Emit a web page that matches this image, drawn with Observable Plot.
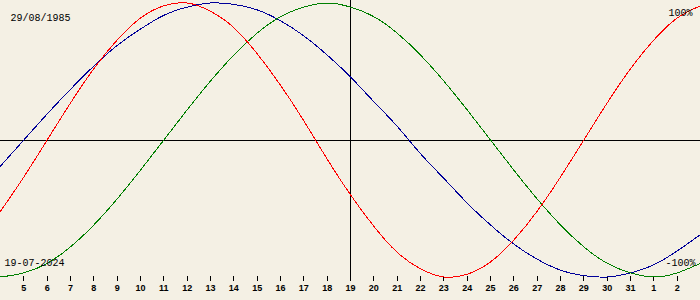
<!DOCTYPE html>
<html>
<head>
<meta charset="utf-8">
<script src="https://cdn.jsdelivr.net/npm/d3@7"></script>
<script src="https://cdn.jsdelivr.net/npm/@observablehq/plot@0.6"></script>
<style>
  html, body { margin: 0; padding: 0; background: #f4f0e4; }
  #chart svg { display: block; }
</style>
</head>
<body>
<div id="chart"></div>
<script>
// Days of the window (July 2024; 32 = Aug 1, 33 = Aug 2, 34 = Aug 3)
const days = [4,5,6,7,8,9,10,11,12,13,14,15,16,17,18,19,20,21,22,23,24,25,26,27,28,29,30,31,32,33,34];
// Biorhythm values in percent
const physical =     [-52,-27,0,27,52,73,89,98,100,94,82,63,40,14,-14,-40,-63,-82,-94,-100,-98,-89,-73,-52,-27,0,27,52,73,89,98];
const emotional =    [-100,-97,-90,-78,-62,-43,-22,0,22,43,62,78,90,97,100,97,90,78,62,43,22,0,-22,-43,-62,-78,-90,-97,-100,-97,-90];
const intellectual = [-19,0,19,37,54,69,81,91,97,100,99,95,87,76,62,46,28,10,-10,-28,-46,-62,-76,-87,-95,-99,-100,-97,-91,-81,-69];
// Axis ticks
const tickDays =   [5,6,7,8,9,10,11,12,13,14,15,16,17,18,19,20,21,22,23,24,25,26,27,28,29,30,31,32,33];
const tickLabels = ["5","6","7","8","9","10","11","12","13","14","15","16","17","18","19","20","21","22","23","24","25","26","27","28","29","30","31","1","2"];
const today = 19;
const birthLabel = "29/08/1985";
const todayLabel = "19-07-2024";

const toRows = vals => days.map((d, i) => ({day: d, v: vals[i]}));
const labelOf = new Map(tickDays.map((d, i) => [d, tickLabels[i]]));

const chart = Plot.plot({
  width: 700,
  height: 300,
  marginLeft: 0,
  marginRight: 0,
  marginTop: 2.5,
  marginBottom: 24,
  style: {background: "#f4f0e4", fontFamily: "Liberation Sans", overflow: "visible"},
  x: {domain: [4, 34], range: [0, 700], label: null},
  y: {domain: [-100, 100], range: [276.5, 2.5], axis: null},
  marks: [
    Plot.axisX({
      ticks: tickDays.filter(d => d !== today),
      tickSize: 5,
      tickPadding: 3,
      tickFormat: d => labelOf.get(d),
      label: null,
      fontSize: 9,
      fontWeight: "bold",
      stroke: "#000",
      fill: "#000",
      strokeWidth: 1
    }),
    Plot.text([labelOf.get(today)], {x: [today], y: [-100], dy: 11.5, lineAnchor: "middle", fontSize: 9, fontWeight: "bold", fill: "#000"}),
    Plot.ruleY([0], {stroke: "#000", strokeWidth: 1}),
    Plot.ruleX([today], {y1: 102, y2: -103, stroke: "#000", strokeWidth: 1, clip: false}),
    Plot.line(toRows(intellectual), {x: "day", y: "v", stroke: "#000099", strokeWidth: 1, curve: "natural"}),
    Plot.line(toRows(emotional), {x: "day", y: "v", stroke: "#008000", strokeWidth: 1, curve: "natural"}),
    Plot.line(toRows(physical), {x: "day", y: "v", stroke: "#ff0000", strokeWidth: 1, curve: "natural"}),
    Plot.text([birthLabel], {frameAnchor: "top-left", dx: 10, dy: 14.5, lineAnchor: "middle", textAnchor: "start", fontFamily: "Liberation Mono", fontSize: 10, fill: "#000"}),
    Plot.text([todayLabel], {frameAnchor: "bottom-left", dx: 4, dy: -14, lineAnchor: "middle", textAnchor: "start", fontFamily: "Liberation Mono", fontSize: 10, fill: "#000"}),
    Plot.text(["100%"], {frameAnchor: "top-right", dx: -8, dy: 9.5, lineAnchor: "middle", textAnchor: "end", fontFamily: "Liberation Mono", fontSize: 10, fill: "#000"}),
    Plot.text(["-100%"], {frameAnchor: "bottom-right", dx: -5, dy: -14, lineAnchor: "middle", textAnchor: "end", fontFamily: "Liberation Mono", fontSize: 10, fill: "#000"})
  ]
});
chart.querySelectorAll("path, line").forEach(el => el.setAttribute("shape-rendering", "crispEdges"));
document.getElementById("chart").appendChild(chart);
</script>
</body>
</html>
